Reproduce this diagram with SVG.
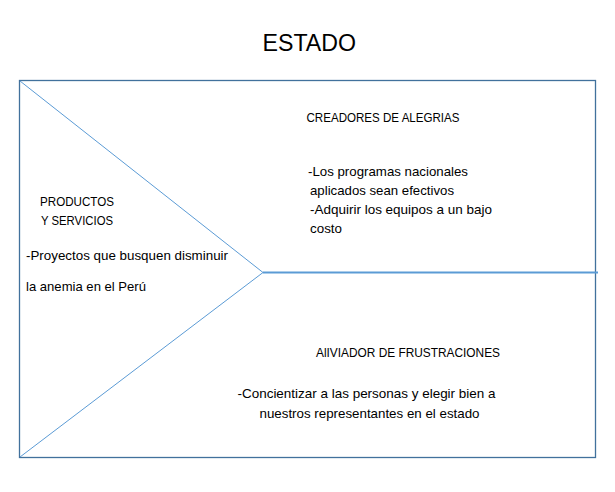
<svg xmlns="http://www.w3.org/2000/svg" width="615" height="492" viewBox="0 0 615 492">
<style>
text{font-family:"Liberation Sans",Arial,sans-serif;fill:#000;font-size:13px}
.title{font-size:24px}
.frame{fill:none;stroke:#41719c;stroke-width:1.3}
.diag{fill:none;stroke:#5b9bd5;stroke-width:1}
.axis{fill:none;stroke:#5b9bd5;stroke-width:2}
</style>
<rect width="615" height="492" fill="#fff"/>
<g id="title"><text class="title" x="262.5" y="50.5" textLength="93.5" lengthAdjust="spacingAndGlyphs">ESTADO</text></g>
<g id="frame"><rect class="frame" x="19.5" y="80.5" width="576" height="377"/></g>
<g id="connectors">
<line class="diag" x1="20" y1="81" x2="263" y2="272.5"/>
<line class="diag" x1="20" y1="457" x2="263" y2="272.5"/>
<line class="axis" x1="263" y1="272.5" x2="598" y2="272.5"/>
</g>
<g id="productos">
<text x="40" y="205.5" textLength="74" lengthAdjust="spacingAndGlyphs">PRODUCTOS</text>
<text x="41" y="224.5" textLength="72" lengthAdjust="spacingAndGlyphs">Y SERVICIOS</text>
<text x="26" y="259.5" textLength="202" lengthAdjust="spacingAndGlyphs">-Proyectos que busquen disminuir</text>
<text x="26" y="290.5" textLength="120" lengthAdjust="spacingAndGlyphs">la anemia en el Perú</text>
</g>
<g id="creadores">
<text x="306.5" y="122" textLength="153" lengthAdjust="spacingAndGlyphs">CREADORES DE ALEGRIAS</text>
<text x="308" y="176" textLength="160" lengthAdjust="spacingAndGlyphs">-Los programas nacionales</text>
<text x="310" y="195" textLength="144" lengthAdjust="spacingAndGlyphs">aplicados sean efectivos</text>
<text x="310" y="214" textLength="182" lengthAdjust="spacingAndGlyphs">-Adquirir los equipos a un bajo</text>
<text x="310" y="233" textLength="32" lengthAdjust="spacingAndGlyphs">costo</text>
</g>
<g id="aliviador">
<text x="316" y="357" textLength="184" lengthAdjust="spacingAndGlyphs">AlIVIADOR DE FRUSTRACIONES</text>
<text x="237.5" y="398" textLength="258" lengthAdjust="spacingAndGlyphs">-Concientizar a las personas y elegir bien a</text>
<text x="259.5" y="417.5" textLength="220" lengthAdjust="spacingAndGlyphs">nuestros representantes en el estado</text>
</g>
</svg>
